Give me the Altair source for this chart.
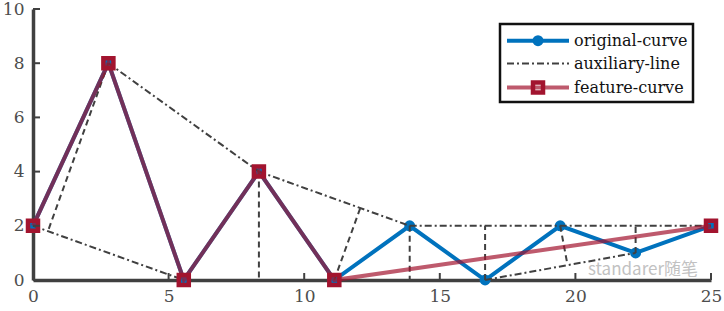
import altair as alt
import pandas as pd

# ---- data ----
x_orig = [0, 2.78, 5.56, 8.33, 11.11, 13.89, 16.67, 19.44, 22.22, 25]
y_orig = [2, 8, 0, 4, 0, 2, 0, 2, 1, 2]

x_feat = [0, 2.78, 5.56, 8.33, 11.11, 25]
y_feat = [2, 8, 0, 4, 0, 2]

# chords (dash-dot auxiliary lines)
chord_x1 = [0, 2.78, 8.33, 13.89, 16.67]
chord_y1 = [2, 8, 4, 2, 0]
chord_x2 = [5.56, 8.33, 13.89, 25, 22.22]
chord_y2 = [0, 4, 2, 2, 1]

# perpendicular distance lines (dashed auxiliary lines)
perp_x1 = [2.78, 11.11, 8.33, 13.89, 16.67, 19.44, 22.22]
perp_y1 = [8, 0, 4, 2, 0, 2, 1]
perp_x2 = [0.55, 12.07, 8.33, 13.89, 16.67, 19.71, 22.22]
perp_y2 = [1.80, 2.66, 0, 0, 2, 0.55, 2]

series_names = ["original-curve", "auxiliary-line", "feature-curve"]
x_ticks = [0, 5, 10, 15, 20, 25]
y_ticks = [0, 2, 4, 6, 8, 10]
watermark = "standarer随笔"

# ---- styling ----
W, H = 678, 271
BLUE = "#0072BD"
RED = "#A2142F"
GREY = "#404040"
FONT = "DejaVu Serif"

xs = alt.Scale(domain=[0, 25], nice=False, zero=False)
ys = alt.Scale(domain=[0, 10], nice=False, zero=False)

x_axis = alt.Axis(values=x_ticks, tickSize=0, labelPadding=8, grid=False,
                  domainColor=GREY, domainWidth=3.5, labelFont=FONT,
                  labelFontSize=17, labelColor="#4d4d4d", title=None, format="d",
                  labelFlush=False, labelOverlap=False, labelBound=False)
y_axis = alt.Axis(values=y_ticks, tickSize=0, labelPadding=9, grid=False,
                  domainColor=GREY, domainWidth=3.5, labelFont=FONT,
                  labelFontSize=17, labelColor="#4d4d4d", title=None, format="d",
                  labelFlush=False, labelOverlap=False, labelBound=False)

orig = pd.DataFrame({"x": x_orig, "y": y_orig})
feat = pd.DataFrame({"x": x_feat, "y": y_feat})
chords = pd.DataFrame({"x": chord_x1, "y": chord_y1, "x2": chord_x2, "y2": chord_y2})
perps = pd.DataFrame({"x": perp_x1, "y": perp_y1, "x2": perp_x2, "y2": perp_y2})
xt = pd.DataFrame({"x": x_ticks})
yt = pd.DataFrame({"y": y_ticks})

blue_line = alt.Chart(orig).mark_line(color=BLUE, strokeWidth=4).encode(
    x=alt.X("x:Q", scale=xs, axis=x_axis),
    y=alt.Y("y:Q", scale=ys, axis=y_axis),
)
blue_pts = alt.Chart(orig).mark_point(shape="circle", filled=True, color=BLUE,
                                      size=120, opacity=1).encode(
    x=alt.X("x:Q", scale=xs), y=alt.Y("y:Q", scale=ys))

chord_layer = alt.Chart(chords).mark_rule(color=GREY, strokeWidth=2,
                                          strokeDash=[7, 3, 2, 3]).encode(
    x=alt.X("x:Q", scale=xs), y=alt.Y("y:Q", scale=ys), x2="x2:Q", y2="y2:Q")
perp_layer = alt.Chart(perps).mark_rule(color=GREY, strokeWidth=2,
                                        strokeDash=[6, 4]).encode(
    x=alt.X("x:Q", scale=xs), y=alt.Y("y:Q", scale=ys), x2="x2:Q", y2="y2:Q")

feat_line = alt.Chart(feat).mark_line(color=RED, strokeWidth=4, opacity=0.7).encode(
    x=alt.X("x:Q", scale=xs), y=alt.Y("y:Q", scale=ys))
feat_pts = alt.Chart(feat).mark_point(shape="square", filled=False, color=RED,
                                      size=100, strokeWidth=4.5, opacity=1).encode(
    x=alt.X("x:Q", scale=xs), y=alt.Y("y:Q", scale=ys))

# inward ticks
x_tick_rules = alt.Chart(xt).mark_rule(color=GREY, strokeWidth=2).encode(
    x=alt.X("x:Q", scale=xs), y=alt.value(H), y2=alt.value(H - 7))
y_tick_rules = alt.Chart(yt).mark_rule(color=GREY, strokeWidth=2).encode(
    y=alt.Y("y:Q", scale=ys), x=alt.value(0), x2=alt.value(7))

# watermark
wm = alt.Chart(pd.DataFrame({"t": [watermark]})).mark_text(
    align="left", baseline="middle", font="Noto Sans CJK SC", fontSize=17,
    color="#999999", opacity=0.6).encode(
    text="t:N", x=alt.value(555), y=alt.value(261))

# ---- manual legend ----
one = pd.DataFrame({"a": [0]})
leg_box = alt.Chart(one).mark_rect(fill="white", stroke="#111111",
                                   strokeWidth=2.5).encode(
    x=alt.value(467), x2=alt.value(660), y=alt.value(15), y2=alt.value(93))

row_y = [31.7, 54.5, 78.5]
leg_layers = [leg_box]
styles = [
    dict(color=BLUE, strokeWidth=4, opacity=1),
    dict(color=GREY, strokeWidth=2, strokeDash=[7, 3, 2, 3], opacity=1),
    dict(color=RED, strokeWidth=4, opacity=0.7),
]
for i, name in enumerate(series_names):
    leg_layers.append(alt.Chart(one).mark_rule(**styles[i]).encode(
        x=alt.value(474), x2=alt.value(536), y=alt.value(row_y[i])))
    leg_layers.append(alt.Chart(pd.DataFrame({"t": [name]})).mark_text(
        align="left", baseline="middle", font=FONT, fontSize=16,
        color="#111111").encode(text="t:N", x=alt.value(541), y=alt.value(row_y[i])))
leg_layers.append(alt.Chart(one).mark_point(shape="circle", filled=True, color=BLUE,
                                            size=120, opacity=1).encode(
    x=alt.value(505), y=alt.value(row_y[0])))
leg_layers.append(alt.Chart(one).mark_point(shape="square", filled=False, color=RED,
                                            size=100, strokeWidth=4.5, opacity=1).encode(
    x=alt.value(505), y=alt.value(row_y[2])))

chart = alt.layer(
    blue_line, blue_pts, chord_layer, perp_layer, feat_line, feat_pts,
    x_tick_rules, y_tick_rules, wm, *leg_layers
).properties(
    width=W, height=H,
    autosize=alt.AutoSizeParams(type="none"),
    padding={"left": 33, "top": 9, "right": 13, "bottom": 31},
    background="white",
).configure_view(stroke=None)

chart.save("out.html", embed_options={"renderer": "svg", "actions": False})
